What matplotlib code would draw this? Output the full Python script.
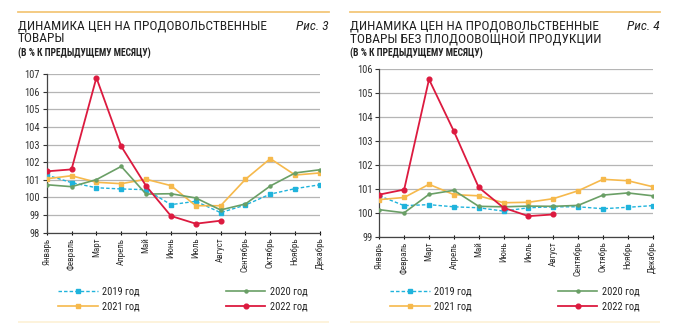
import matplotlib
matplotlib.use("Agg")
import matplotlib.pyplot as plt
from matplotlib.lines import Line2D
from matplotlib.patches import Rectangle

plt.rcParams['font.family'] = ['Roboto Condensed', 'Liberation Sans Narrow', 'Roboto', 'DejaVu Sans']

months = ["Январь", "Февраль", "Март", "Апрель", "Май", "Июнь", "Июль",
          "Август", "Сентябрь", "Октябрь", "Ноябрь", "Декабрь"]

# Left chart: food products
left_2019 = [101.27, 100.84, 100.55, 100.48, 100.44, 99.59, 99.78, 99.14, 99.57, 100.19, 100.50, 100.72]
left_2020 = [100.72, 100.61, 101.01, 101.76, 100.19, 100.21, 99.97, 99.29, 99.63, 100.65, 101.39, 101.57]
left_2021 = [101.06, 101.23, 100.86, 100.78, 101.03, 100.67, 99.53, 99.53, 101.03, 102.20, 101.27, 101.39]
left_2022 = [101.48, 101.59, 106.79, 102.90, 100.65, 98.95, 98.51, 98.68]

# Right chart: food products excluding fruit & vegetables
right_2019 = [100.71, 100.30, 100.34, 100.25, 100.21, 100.07, 100.21, 100.25, 100.25, 100.17, 100.23, 100.30]
right_2020 = [100.13, 100.00, 100.77, 100.94, 100.27, 100.25, 100.28, 100.27, 100.31, 100.74, 100.83, 100.71]
right_2021 = [100.55, 100.64, 101.19, 100.76, 100.71, 100.42, 100.44, 100.59, 100.92, 101.40, 101.34, 101.09]
right_2022 = [100.76, 100.97, 105.58, 103.41, 101.06, 100.21, 99.86, 99.93]

left_ylim = (98, 107)
right_ylim = (99, 106)

C2019 = "#1fb3dc"
C2020 = "#6a9f66"
C2021 = "#f6b94c"
C2022 = "#dc1a3f"

fig = plt.figure(figsize=(6.84, 3.23), dpi=100)
W, H = 684, 323


def fx(px):
    return px / W


def fy(py):
    return 1 - py / H


def panel(rect, s19, s20, s21, s22, ylim, title, fig_label, x0, x1):
    ax = fig.add_axes(rect)
    x = list(range(12))
    ax.plot(x[:len(s19)], s19, color=C2019, ls=(0, (2.5, 1.5)), lw=1.0,
            marker='s', ms=2.8, label="2019 год", zorder=3)
    ax.plot(x[:len(s21)], s21, color=C2021, lw=1.2,
            marker='s', ms=2.8, label="2021 год", zorder=3)
    ax.plot(x[:len(s20)], s20, color=C2020, lw=1.2,
            marker='o', ms=2.2, label="2020 год", zorder=3)
    ax.plot(x[:len(s22)], s22, color=C2022, lw=1.3,
            marker='o', ms=3.4, label="2022 год", zorder=4)
    ax.set_xlim(0, 11)
    ax.set_ylim(*ylim)
    ax.set_yticks(range(ylim[0], ylim[1] + 1))
    ax.set_xticks(x)
    ax.set_xticklabels(months, rotation=90, fontsize=6.5, color="#333333")
    ax.tick_params(axis='y', labelsize=7.5, colors="#333333", length=3, width=0.8, pad=2)
    ax.tick_params(axis='x', length=3, width=0.8, pad=2, direction='inout')
    ax.grid(axis='y', color="#b5b5b5", lw=0.9)
    ax.set_axisbelow(True)
    for s in ['top', 'right']:
        ax.spines[s].set_visible(False)
    for s in ['left', 'bottom']:
        ax.spines[s].set_color("#444444")
        ax.spines[s].set_linewidth(0.9)
    ax.set_facecolor('none')

    handles, labels = ax.get_legend_handles_labels()
    leg = ax.legend(handles, labels,
                    ncol=2, loc='upper left',
                    bbox_to_anchor=(fx(x0 + 40), fy(287)), bbox_transform=fig.transFigure,
                    frameon=False, fontsize=7.5, handlelength=3.8,
                    columnspacing=8.3, labelspacing=0.45, handletextpad=0.4,
                    borderpad=0, borderaxespad=0)
    for t in leg.get_texts():
        t.set_color("#222222")

    # header line
    fig.add_artist(Line2D([fx(x0), fx(x1)], [fy(12), fy(12)], color="#f3c77a", lw=1.3))
    # title
    fig.text(fx(x0), fy(19.5), title, fontsize=9.6, color="#222222", va='top', ha='left',
             linespacing=0.98)
    fig.text(fx(x1), fy(19.5), fig_label, fontsize=9.6, color="#222222", va='top', ha='right',
             style='italic')
    fig.text(fx(x0), fy(47.5), "(В % К ПРЕДЫДУЩЕМУ МЕСЯЦУ)", fontsize=6.9, color="#222222",
             va='top', ha='left', weight='bold')
    # bottom band
    fig.add_artist(Rectangle((fx(x0), 0), fx(x1) - fx(x0), 2.5 / H,
                             transform=fig.transFigure, color="#fdf3dc", lw=0))
    return ax


panel([fx(46.7), fy(232.7), fx(320) - fx(46.7), fy(74) - fy(232.7)],
      left_2019, left_2020, left_2021, left_2022, left_ylim,
      "ДИНАМИКА ЦЕН НА ПРОДОВОЛЬСТВЕННЫЕ\nТОВАРЫ", "Рис. 3", 18, 329)

panel([fx(379.3), fy(236.7), fx(652.7) - fx(379.3), fy(69.3) - fy(236.7)],
      right_2019, right_2020, right_2021, right_2022, right_ylim,
      "ДИНАМИКА ЦЕН НА ПРОДОВОЛЬСТВЕННЫЕ\nТОВАРЫ БЕЗ ПЛОДООВОЩНОЙ ПРОДУКЦИИ", "Рис. 4", 350, 660)

fig.savefig("out.png", dpi=100)
